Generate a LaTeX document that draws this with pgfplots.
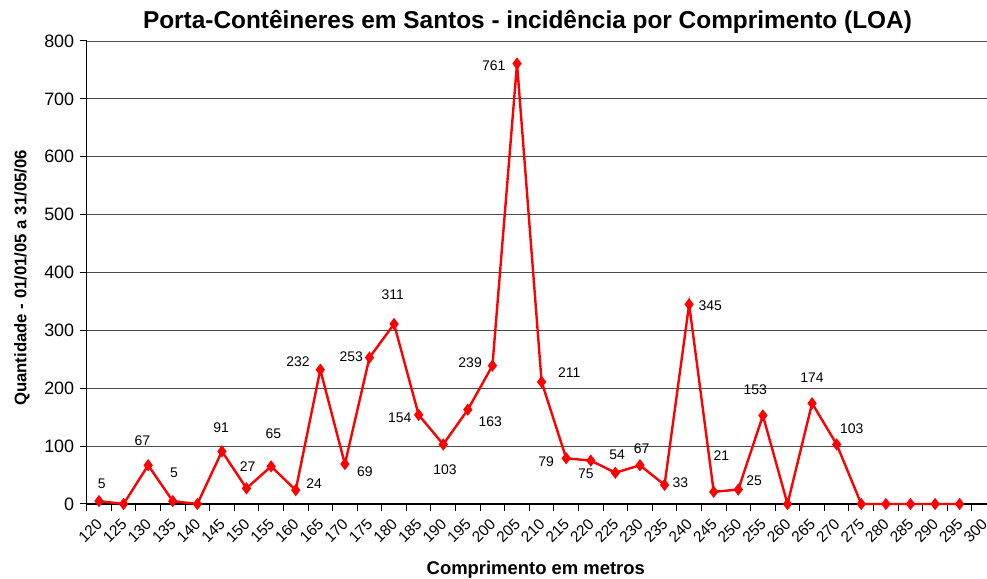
\documentclass[border=0pt]{standalone}
\usepackage{fontspec}
\setmainfont{Liberation Sans}
\usepackage{pgfplots}
\usepackage{pgfplotstable}
\pgfplotsset{compat=1.18}
\tikzset{lbl/.style={font=\fontsize{14}{16}\selectfont, inner sep=0pt}}

% Comprimento (m) e quantidade de navios
\pgfplotstableread{
loa  n
120  5
125  0
130  67
135  5
140  0
145  91
150  27
155  65
160  24
165  232
170  69
175  253
180  311
185  154
190  103
195  163
200  239
205  761
210  211
215  79
220  75
225  54
230  67
235  33
240  345
245  21
250  25
255  153
260  0
265  174
270  103
275  0
280  0
285  0
290  0
295  0
}\loatable

\begin{document}
\begin{tikzpicture}[x=1bp, y=1bp]
  \begin{axis}[
      at={(0,0)}, anchor=south west,
      scale only axis,
      width=909.8bp, height=463bp,
      xmin=117.5, xmax=302.5,
      ymin=0, ymax=800,
      axis lines*=left,
      axis line style={black, line width=1.6bp},
      ytick={0,100,...,800},
      xtick={120,125,...,300},
      minor xtick={117.5,122.5,...,302.5},
      major x tick style={draw=none},
      tick align=outside,
      major tick length=7bp,
      minor tick length=7bp,
      tick style={black, line width=1bp},
      ymajorgrids,
      grid style={black!70, line width=0.9bp},
      /pgf/number format/assume math mode=true,
      yticklabel style={font=\fontsize{18}{20}\selectfont, xshift=-2bp},
      xticklabel style={font=\fontsize{15.5}{17}\selectfont, rotate=45, anchor=east, xshift=-4bp, yshift=-8bp},
      clip=false,
    ]

    \addplot[red, line width=2.4bp, mark=diamond*, mark size=4.2bp,
      mark options={solid, fill=red}] table[x=loa, y=n] {\loatable};

    % rótulos de dados
    \node[lbl, xshift=2.7bp, yshift=17bp] at (axis cs:120,5) {5};
    \node[lbl, xshift=-5.7bp, yshift=25bp] at (axis cs:130,67) {67};
    \node[lbl, xshift=1.3bp, yshift=28.7bp] at (axis cs:135,5) {5};
    \node[lbl, xshift=-0.7bp, yshift=24bp] at (axis cs:145,91) {91};
    \node[lbl, xshift=1bp, yshift=21.7bp] at (axis cs:150,27) {27};
    \node[lbl, xshift=2.3bp, yshift=32.7bp] at (axis cs:155,65) {65};
    \node[lbl, xshift=18.3bp, yshift=6bp] at (axis cs:160,24) {24};
    \node[lbl, xshift=-22.3bp, yshift=8.3bp] at (axis cs:165,232) {232};
    \node[lbl, xshift=20bp, yshift=-8bp] at (axis cs:170,69) {69};
    \node[lbl, xshift=-18.3bp, yshift=0.4bp] at (axis cs:175,253) {253};
    \node[lbl, xshift=-1.3bp, yshift=29bp] at (axis cs:180,311) {311};
    \node[lbl, xshift=-19bp, yshift=-2.7bp] at (axis cs:185,154) {154};
    \node[lbl, xshift=1.7bp, yshift=-25bp] at (axis cs:190,103) {103};
    \node[lbl, xshift=22.3bp, yshift=-12.3bp] at (axis cs:195,163) {163};
    \node[lbl, xshift=-22.3bp, yshift=3.3bp] at (axis cs:200,239) {239};
    \node[lbl, xshift=-23.3bp, yshift=-1.7bp] at (axis cs:205,761) {761};
    \node[lbl, xshift=27.7bp, yshift=9bp] at (axis cs:210,211) {211};
    \node[lbl, xshift=-20bp, yshift=-3.7bp] at (axis cs:215,79) {79};
    \node[lbl, xshift=-5bp, yshift=-12.7bp] at (axis cs:220,75) {75};
    \node[lbl, xshift=1.7bp, yshift=17.7bp] at (axis cs:225,54) {54};
    \node[lbl, xshift=1.7bp, yshift=16.7bp] at (axis cs:230,67) {67};
    \node[lbl, xshift=15.7bp, yshift=2.3bp] at (axis cs:235,33) {33};
    \node[lbl, xshift=21bp, yshift=-1bp] at (axis cs:240,345) {345};
    \node[lbl, xshift=7.7bp, yshift=36.7bp] at (axis cs:245,21) {21};
    \node[lbl, xshift=15.7bp, yshift=9.3bp] at (axis cs:250,25) {25};
    \node[lbl, xshift=-7.7bp, yshift=26bp] at (axis cs:255,153) {153};
    \node[lbl, xshift=0bp, yshift=26bp] at (axis cs:265,174) {174};
    \node[lbl, xshift=15bp, yshift=15.7bp] at (axis cs:270,103) {103};
  \end{axis}

  % título e rótulos dos eixos
  \node[font=\bfseries\fontsize{24.5}{27}\selectfont] at (440.8,482) {Porta-Contêineres em Santos - incidência por Comprimento (LOA)};
  \node[font=\bfseries\fontsize{18.5}{20}\selectfont] at (449.1,-66) {Comprimento em metros};
  \node[font=\bfseries\fontsize{16.8}{19}\selectfont, rotate=90] at (-64.7,226) {Quantidade - 01/01/05 a 31/05/06};

  \pgfresetboundingbox
  \path (-86.7,-75) rectangle (900.3,504);
\end{tikzpicture}
\end{document}
